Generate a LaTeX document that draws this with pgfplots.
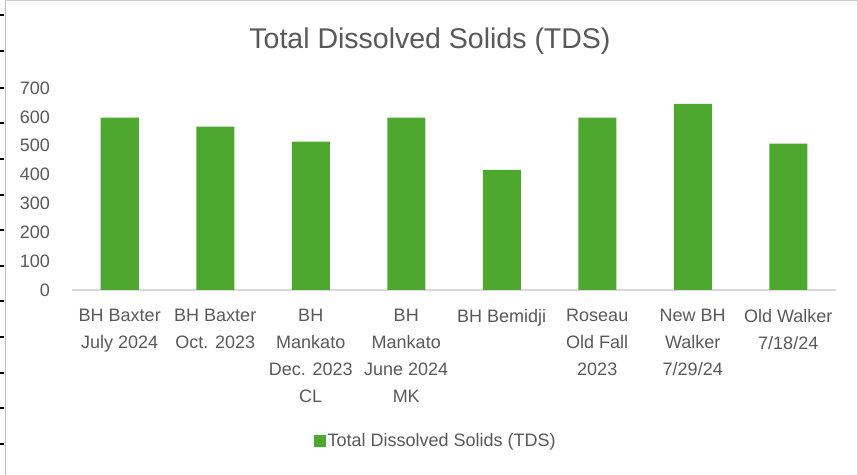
\documentclass[border=0pt]{standalone}
\usepackage{fontspec}
\setmainfont{Liberation Sans}
\usepackage{pgfplots}
\pgfplotsset{compat=1.18}
\definecolor{barg}{RGB}{78,167,46}
\definecolor{txt}{RGB}{89,89,89}
\definecolor{axl}{RGB}{217,217,217}
\begin{document}
\begin{tikzpicture}
\path[use as bounding box] (0,0) rectangle (857bp,475bp);
\draw[gray!50, line width=1bp] (5bp,0) -- (5bp,475bp);
\draw[gray!40, line width=0.8bp] (5bp,474.5bp) -- (857bp,474.5bp);
\foreach \yy in {15,51,88,123,159,195,230,266,301,337,373,408,444} {
  \draw[black, line width=1.5bp] (0,475bp-\yy bp) -- (3.5bp,475bp-\yy bp);
}
\node[text=txt, font=\fontsize{28.5bp}{32bp}\selectfont] at (430bp,434bp) {Total Dissolved Solids (TDS)};
\begin{axis}[
  at={(72bp,185bp)}, anchor=south west,
  scale only axis, width=764bp, height=202bp,
  xmin=-0.5, xmax=7.5, ymin=0, ymax=700,
  ybar, bar width=38bp,
  axis x line=bottom, axis y line=left,
  x axis line style={draw=axl, line width=1.5bp, -},
  y axis line style={draw=none},
  major tick length=0,
  ytick={0,100,...,700},
  xtick=data,
  xticklabels={{BH Baxter\\July 2024},{BH Baxter\\Oct. 2023},{BH\\Mankato\\Dec. 2023\\CL},{BH\\Mankato\\June 2024\\MK},{BH Bemidji},{Roseau\\Old Fall\\2023},{New BH\\Walker\\7/29/24},{Old Walker\\7/18/24}},
  /pgf/number format/assume math mode=true,
  yticklabel style={text=txt, font=\fontsize{18bp}{20bp}\selectfont, anchor=east, inner sep=0pt, xshift=-22bp},
  xticklabel style={text=txt, font=\fontsize{18bp}{27bp}\selectfont, align=center, anchor=north, inner sep=0pt, yshift=-19bp},
  legend style={at={(0.476,-0.748)}, anchor=center, draw=none, fill=none, text=txt, font=\fontsize{18bp}{20bp}\selectfont, inner sep=0pt},
  legend image code/.code={\fill[barg] (-5bp,-6bp) rectangle (7bp,6bp);},
]
\addplot[fill=barg, draw=none] coordinates {(0,597) (1,566) (2,514) (3,597) (4,416) (5,597) (6,645) (7,507)};
\addlegendentry{Total Dissolved Solids (TDS)}
\end{axis}
\end{tikzpicture}
\end{document}
